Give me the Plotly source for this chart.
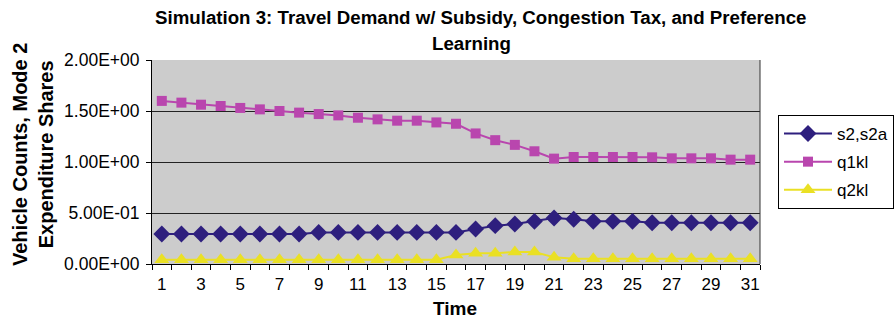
import plotly.graph_objects as go

time = list(range(1, 32))
s2 = [0.294, 0.294, 0.294, 0.294, 0.294, 0.294, 0.294, 0.294, 0.31, 0.31,
      0.31, 0.31, 0.31, 0.31, 0.31, 0.31, 0.343, 0.376, 0.392, 0.418,
      0.451, 0.438, 0.418, 0.418, 0.418, 0.405, 0.405, 0.405, 0.405, 0.405, 0.405]
q1kl = [1.599, 1.582, 1.562, 1.549, 1.53, 1.516, 1.50, 1.484, 1.47, 1.457,
        1.434, 1.418, 1.405, 1.405, 1.388, 1.375, 1.28, 1.214, 1.168, 1.105,
        1.033, 1.049, 1.049, 1.049, 1.049, 1.046, 1.036, 1.036, 1.036, 1.023, 1.023]
q2kl = [0.042, 0.042, 0.042, 0.042, 0.042, 0.042, 0.042, 0.042, 0.042, 0.042,
        0.042, 0.042, 0.042, 0.042, 0.042, 0.088, 0.105, 0.105, 0.118, 0.118,
        0.065, 0.052, 0.052, 0.052, 0.052, 0.052, 0.052, 0.052, 0.052, 0.052, 0.052]

x_tick_vals = list(range(1, 32, 2))
y_tick_vals = [0, 0.5, 1.0, 1.5, 2.0]
y_tick_text = ["0.00E+00", "5.00E-01", "1.00E+00", "1.50E+00", "2.00E+00"]

title_line1 = "Simulation 3: Travel Demand w/ Subsidy, Congestion Tax, and Preference"
title_line2 = "Learning"
y_title = "Vehicle Counts, Mode 2<br>Expenditure Shares"
x_title = "Time"

font_family = "Liberation Sans, Arial, sans-serif"

fig = go.Figure()
fig.add_trace(go.Scatter(x=time, y=s2, name="s2,s2a", mode="lines+markers", legendgroup="a",
                         line=dict(color="#2E1F7E", width=2),
                         marker=dict(symbol="diamond", size=13, color="#2E1F7E")))
fig.add_trace(go.Scatter(x=time, y=q1kl, name="q1kl", mode="lines+markers", legendgroup="b",
                         line=dict(color="#B946AE", width=2),
                         marker=dict(symbol="square", size=10, color="#B946AE")))
fig.add_trace(go.Scatter(x=time, y=q2kl, name="q2kl", mode="lines+markers", legendgroup="c",
                         line=dict(color="#EAE024", width=2),
                         marker=dict(symbol="triangle-up", size=13, color="#EAE024"),
                         cliponaxis=False))

fig.update_layout(
    width=894, height=323,
    margin=dict(l=152, r=134, t=60, b=59),
    paper_bgcolor="white",
    plot_bgcolor="#CCCCCC",
    font=dict(family=font_family, size=17, color="black"),
    legend=dict(xref="container", yref="container", x=778 / 894, y=1 - 115 / 323,
                xanchor="left", yanchor="top",
                bordercolor="black", borderwidth=1, bgcolor="white",
                font=dict(size=17), tracegroupgap=3, itemwidth=48),
    showlegend=True,
)
# title, two centred lines
fig.add_annotation(text="<b>" + title_line1 + "</b>", xref="paper", yref="paper",
                   x=(480 - 152) / 608, y=(264 - 17) / 204, xanchor="center", yanchor="middle",
                   showarrow=False, font=dict(size=18.7, family=font_family))
fig.add_annotation(text="<b>" + title_line2 + "</b>", xref="paper", yref="paper",
                   x=(471 - 152) / 608, y=(264 - 43) / 204, xanchor="center", yanchor="middle",
                   showarrow=False, font=dict(size=18.7, family=font_family))
# y axis title
fig.add_annotation(text="<b>" + y_title + "</b>", xref="paper", yref="paper",
                   x=(33 - 152) / 608, y=(264 - 155) / 204, xanchor="center", yanchor="middle",
                   textangle=-90, showarrow=False, font=dict(size=20, family=font_family))
# x axis title
fig.add_annotation(text="<b>" + x_title + "</b>", xref="paper", yref="paper",
                   x=(455 - 152) / 608, y=(264 - 308) / 204, xanchor="center", yanchor="middle",
                   showarrow=False, font=dict(size=19, family=font_family))

fig.update_xaxes(
    range=[0.5, 31.5], tickvals=x_tick_vals, ticktext=[str(v) for v in x_tick_vals],
    ticks="outside", ticklen=5, tickcolor="rgba(0,0,0,0)", showgrid=False, zeroline=False,
    showline=True, linecolor="black", linewidth=1, automargin=False,
    minor=dict(tick0=0.5, dtick=1, ticks="outside", ticklen=5, tickcolor="black", showgrid=False),
    tickfont=dict(size=17),
)
fig.update_yaxes(
    range=[0, 2.0], tickvals=y_tick_vals, ticktext=y_tick_text,
    ticks="outside", ticklen=5, tickcolor="black", ticklabelstandoff=3,
    showgrid=True, gridcolor="#222222", gridwidth=1, zeroline=False,
    showline=True, linecolor="black", linewidth=1, automargin=False,
    tickfont=dict(size=17.5),
)
# right border of the plot area
fig.add_shape(type="line", xref="paper", yref="paper", x0=1, x1=1, y0=0, y1=1,
              line=dict(color="#333333", width=1))

fig.write_html("out.html", config={"displayModeBar": False},
               post_script="document.body.style.margin='0';")
